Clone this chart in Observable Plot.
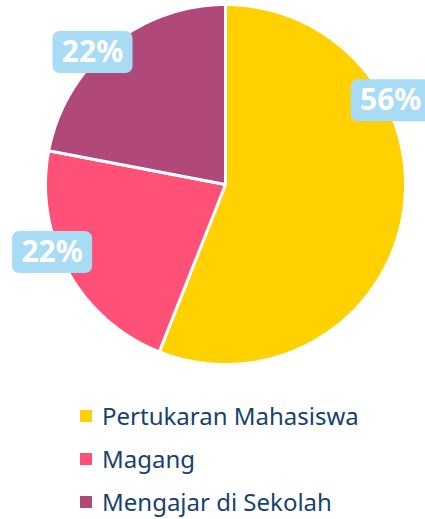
<!DOCTYPE html>
<html>
<head>
<meta charset="utf-8">
<script src="https://cdn.jsdelivr.net/npm/d3@7"></script>
<script src="https://cdn.jsdelivr.net/npm/@observablehq/plot@0.6"></script>
<style>
  html, body { margin: 0; padding: 0; background: #fff; width: 425px; height: 519px; overflow: hidden; }
  #chart { position: absolute; left: 0; top: 0; }
  #legend { position: absolute; left: 80px; top: 402px; font-family: "Noto Sans", sans-serif; font-size: 24px; color: #17426f; }
  .row { height: 28px; line-height: 28px; margin-bottom: 15px; display: flex; align-items: center; white-space: nowrap; }
  .row:last-child { margin-bottom: 0; }
  .sw { width: 12px; height: 12px; margin-right: 10px; flex: none; }
</style>
</head>
<body>
<div id="chart"></div>
<div id="legend"></div>
<script>
// ---- data ----
const categories = ["Pertukaran Mahasiswa", "Magang", "Mengajar di Sekolah"];
const values = [56, 22, 22];
const labels = ["56%", "22%", "22%"];
const colors = ["#FFD100", "#FF5177", "#B0497A"];

// ---- layout (label anchor angle in degrees clockwise from top, radius in pie units) ----
const labelAngles = [63, 248.7, 314.9];
const labelRadii = [1.03, 1.034, 1.043];

const pie = d3.pie().sort(null).value(d => d.value);
const arcs = pie(categories.map((c, i) => ({category: c, value: values[i]})));

// slice outlines as polygons in unit coordinates
const slicePts = [];
arcs.forEach(a => {
  const cat = a.data.category;
  slicePts.push({category: cat, x: 0, y: 0});
  const n = Math.max(2, Math.ceil((a.endAngle - a.startAngle) / (Math.PI / 360)));
  for (let k = 0; k <= n; k++) {
    const t = a.startAngle + (a.endAngle - a.startAngle) * k / n;
    slicePts.push({category: cat, x: Math.sin(t), y: Math.cos(t)});
  }
  slicePts.push({category: cat, x: 0, y: 0});
});

const labelData = categories.map((c, i) => {
  const t = labelAngles[i] * Math.PI / 180;
  return {category: c, label: labels[i], x: labelRadii[i] * Math.sin(t), y: labelRadii[i] * Math.cos(t)};
});

// rounded rectangle symbol for label boxes
const boxSymbol = {
  draw(ctx) {
    const w = 80, h = 42, r = 7, x0 = -w / 2, y0 = -h / 2, x1 = w / 2, y1 = h / 2;
    ctx.moveTo(x0 + r, y0);
    ctx.lineTo(x1 - r, y0);
    ctx.arcTo(x1, y0, x1, y0 + r, r);
    ctx.lineTo(x1, y1 - r);
    ctx.arcTo(x1, y1, x1 - r, y1, r);
    ctx.lineTo(x0 + r, y1);
    ctx.arcTo(x0, y1, x0, y1 - r, r);
    ctx.lineTo(x0, y0 + r);
    ctx.arcTo(x0, y0, x0 + r, y0, r);
    ctx.closePath();
  }
};

const chart = Plot.plot({
  width: 425,
  height: 380,
  margin: 0,
  x: {domain: [-1, 1], range: [45, 405], axis: null},
  y: {domain: [-1, 1], range: [364, 4], axis: null},
  color: {domain: categories, range: colors},
  style: {background: "transparent", overflow: "hidden"},
  marks: [
    Plot.line(slicePts, {x: "x", y: "y", z: "category", fill: "category", stroke: "white", strokeWidth: 3, strokeLinejoin: "round"}),
    Plot.dot(labelData, {x: "x", y: "y", symbol: boxSymbol, r: 10, fill: "#A8DBF4", stroke: "none"}),
    Plot.text(labelData, {x: "x", y: "y", text: "label", fill: "white", fontSize: 30, fontWeight: "bold", fontFamily: "Noto Sans"})
  ]
});
document.getElementById("chart").appendChild(chart);

const legend = document.getElementById("legend");
categories.forEach((c, i) => {
  const row = document.createElement("div");
  row.className = "row";
  const sw = document.createElement("span");
  sw.className = "sw";
  sw.style.background = colors[i];
  const tx = document.createElement("span");
  tx.textContent = c;
  row.appendChild(sw);
  row.appendChild(tx);
  legend.appendChild(row);
});
</script>
</body>
</html>
